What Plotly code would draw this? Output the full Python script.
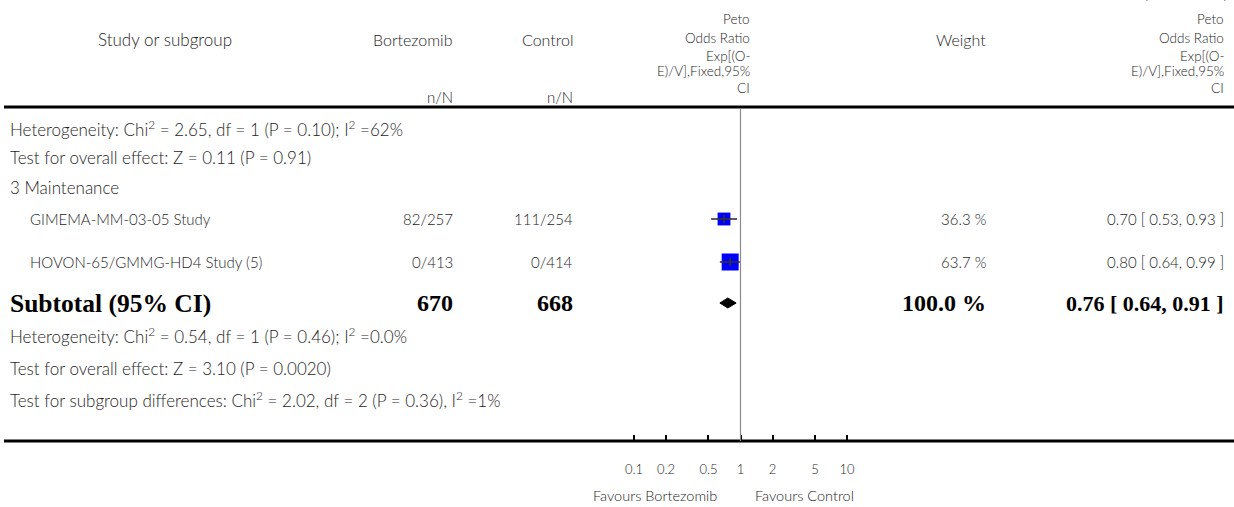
import math
import plotly.graph_objects as go

W, H = 1234, 507

# ---------------- data ----------------
studies = ["GIMEMA-MM-03-05 Study", "HOVON-65/GMMG-HD4 Study (5)"]
bortezomib_nN = ["82/257", "0/413"]
control_nN = ["111/254", "0/414"]
weights = [36.3, 63.7]
or_est = [0.70, 0.80]
ci_low = [0.53, 0.64]
ci_high = [0.93, 0.99]

sub_label = "Subtotal (95% CI)"
sub_bort_total = 670
sub_ctrl_total = 668
sub_weight = 100.0
sub_est = 0.76
sub_low = 0.64
sub_high = 0.91

group_label = "3 Maintenance"
prev_notes = ["Heterogeneity: Chi<sup>2</sup> = 2.65, df = 1 (P = 0.10); I<sup>2</sup> =62%",
              "Test for overall effect: Z = 0.11 (P = 0.91)"]
sub_notes = ["Heterogeneity: Chi<sup>2</sup> = 0.54, df = 1 (P = 0.46); I<sup>2</sup> =0.0%",
             "Test for overall effect: Z = 3.10 (P = 0.0020)",
             "Test for subgroup differences: Chi<sup>2</sup> = 2.02, df = 2 (P = 0.36), I<sup>2</sup> =1%"]

tick_vals = [0.1, 0.2, 0.5, 1, 2, 5, 10]
tick_text = ["0.1", "0.2", "0.5", "1", "2", "5", "10"]
favours_left = "Favours Bortezomib"
favours_right = "Favours Control"

or_header = ["Peto", "Odds Ratio", "Exp[(O-", "E)/V],Fixed,95%", "CI"]

# ---------------- layout positions (pixels) ----------------
SANS = "Lato"
SERIF = "Liberation Serif"
TXT = "#1e1e1e"
FS = 15
FN = 17
FW = 300

x_left = 8
x_indent = 28
x_bort = 455
x_ctrl = 575
x_or_hdr = 752
x_weight = 988
x_ci = 1226

y_hdr_main = 39
y_hdr_nN = 97
y_or_hdr = [19, 38, 56, 71, 88]
y_prev = [128, 157]
y_group = 187
y_study = [219, 262]
y_sub = 303
y_sub_notes = [335, 368, 399]
y_top_rule = 107
y_axis_line = 441
y_favours = 495

# x axis: log scale, 0.1 at px 634, 106.5 px per decade
px_01 = 634.0
px_dec = 106.5
xr = [-1 - px_01 / px_dec, -1 + (W - px_01) / px_dec]


def px(x):
    return x / W


fig = go.Figure()

# study squares
sq_scale = 17 / math.sqrt(max(weights))
fig.add_trace(go.Scatter(
    x=or_est, y=y_study, mode="markers",
    marker=dict(symbol="square", size=[sq_scale * math.sqrt(w) for w in weights],
                color="#0000FF", opacity=1, line=dict(width=0)),
    hoverinfo="skip", showlegend=False))

# confidence interval lines
ci_x, ci_y = [], []
for lo, hi, y in zip(ci_low, ci_high, y_study):
    ci_x += [lo, hi, None]
    ci_y += [y, y, None]
fig.add_trace(go.Scatter(x=ci_x, y=ci_y, mode="lines",
                         line=dict(color="#333333", width=1.6),
                         hoverinfo="skip", showlegend=False))
fig.add_trace(go.Scatter(x=or_est, y=y_study, mode="markers",
                         marker=dict(symbol="line-ns", size=6,
                                     line=dict(color="#333333", width=1.6)),
                         hoverinfo="skip", showlegend=False))

# subtotal diamond
dh = 5
fig.add_trace(go.Scatter(
    x=[sub_low, sub_est, sub_high, sub_est, sub_low],
    y=[y_sub, y_sub - dh, y_sub, y_sub + dh, y_sub],
    mode="lines", fill="toself", fillcolor="black",
    line=dict(color="black", width=1), hoverinfo="skip", showlegend=False))

ann = []


def add_text(text, x, y, anchor="left", size=FS, family=SANS, color=TXT, weight=FW):
    ann.append(dict(text=text, x=px(x), y=y, xref="paper", yref="y",
                    xanchor=anchor, yanchor="middle", showarrow=False,
                    font=dict(family=family, size=size, color=color, weight=weight)))


# headers
add_text("Study or subgroup", 165, y_hdr_main, "center", 17)
add_text("Bortezomib", x_bort, y_hdr_main, "right", 16)
add_text("Control", x_ctrl, y_hdr_main, "right", 16)
add_text("n/N", x_bort, y_hdr_nN, "right", 15)
add_text("n/N", x_ctrl, y_hdr_nN, "right", 15)
for t, y in zip(or_header, y_or_hdr):
    add_text(t, x_or_hdr, y, "right", 13.5)
    add_text(t, x_ci, y, "right", 13.5)
add_text("Weight", x_weight, y_hdr_main, "right", 16)

# partly cut "(Continued)" in the corner
ann.append(dict(text="( Continued )", x=px(x_ci + 4), y=1, xref="paper", yref="paper",
                xanchor="right", yanchor="bottom", yshift=-4, showarrow=False,
                font=dict(family=SANS, size=15, color=TXT, weight=FW)))

# previous-group notes
for t, y in zip(prev_notes, y_prev):
    add_text(t, x_left, y, size=FN)
add_text(group_label, x_left, y_group, size=FN)

# studies
for i, s in enumerate(studies):
    y = y_study[i]
    add_text(s, x_indent, y)
    add_text(bortezomib_nN[i], x_bort, y, "right")
    add_text(control_nN[i], x_ctrl, y, "right")
    add_text(f"{weights[i]:.1f} %", x_weight, y, "right")
    add_text(f"{or_est[i]:.2f} [ {ci_low[i]:.2f}, {ci_high[i]:.2f} ]", x_ci, y, "right")

# subtotal
add_text(f"<b>{sub_label}</b>", x_left, y_sub, "left", 25.5, SERIF, "black", 700)
add_text(f"<b>{sub_bort_total}</b>", x_bort, y_sub, "right", 24, SERIF, "black", 700)
add_text(f"<b>{sub_ctrl_total}</b>", x_ctrl, y_sub, "right", 24, SERIF, "black", 700)
add_text(f"<b>{sub_weight:.1f} %</b>", x_weight, y_sub, "right", 24, SERIF, "black", 700)
add_text(f"<b>{sub_est:.2f} [ {sub_low:.2f}, {sub_high:.2f} ]</b>", x_ci, y_sub, "right", 22,
         SERIF, "black", 700)

for t, y in zip(sub_notes, y_sub_notes):
    add_text(t, x_left, y, size=FN)

# favours labels
ann.append(dict(text=favours_left, x=0, xref="x", y=y_favours, yref="y",
                xanchor="right", yanchor="middle", xshift=-22, showarrow=False,
                font=dict(family=SANS, size=14.5, color=TXT, weight=FW)))
ann.append(dict(text=favours_right, x=0, xref="x", y=y_favours, yref="y",
                xanchor="left", yanchor="middle", xshift=12, showarrow=False,
                font=dict(family=SANS, size=14.5, color=TXT, weight=FW)))

shapes = [
    dict(type="line", xref="paper", yref="y", x0=px(4), x1=1, y0=y_top_rule, y1=y_top_rule,
         line=dict(color="black", width=3)),
    dict(type="line", xref="paper", yref="y", x0=px(4), x1=1, y0=y_axis_line, y1=y_axis_line,
         line=dict(color="black", width=3)),
    dict(type="line", xref="x", yref="y", x0=1, x1=1, y0=y_top_rule + 2, y1=y_axis_line,
         line=dict(color="#8a8a8a", width=1.2)),
]

fig.update_layout(
    width=W, height=H,
    margin=dict(l=0, r=0, t=0, b=0),
    paper_bgcolor="white", plot_bgcolor="white",
    showlegend=False,
    annotations=ann, shapes=shapes,
    xaxis=dict(type="log", range=xr, domain=[0, 1], anchor="free",
               position=1 - y_axis_line / H,
               showgrid=False, zeroline=False, showline=False,
               tickmode="array", tickvals=tick_vals, ticktext=tick_text,
               ticks="inside", ticklen=6, tickwidth=2, tickcolor="black",
               ticklabelstandoff=19,
               tickfont=dict(family=SANS, size=13, color=TXT, weight=FW)),
    yaxis=dict(range=[H, 0], domain=[0, 1], visible=False,
               showgrid=False, zeroline=False),
)

fig.write_html("out.html", config={"displayModeBar": False},
               post_script="document.body.style.margin='0';")
